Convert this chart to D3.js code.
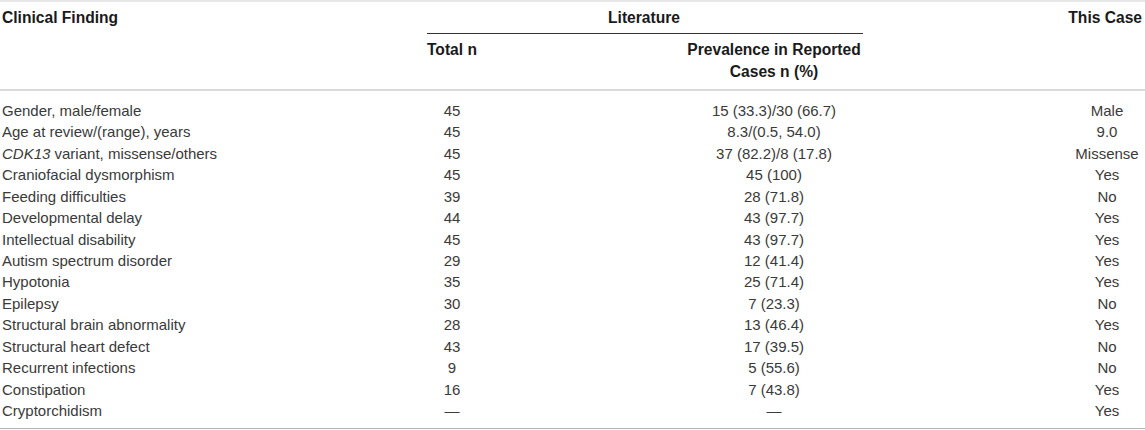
<!DOCTYPE html>
<html>
<head>
<meta charset="utf-8">
<script src="https://cdn.jsdelivr.net/npm/d3@7"></script>
<style>
  body { margin: 0; background: #fff; }
  svg text { font-family: "Liberation Sans", Arial, Helvetica, sans-serif; }
</style>
</head>
<body>
<svg id="chart"></svg>
<script>
// table content
const findings = [
  'Gender, male/female',
  'Age at review/(range), years',
  'CDK13 variant, missense/others',
  'Craniofacial dysmorphism',
  'Feeding difficulties',
  'Developmental delay',
  'Intellectual disability',
  'Autism spectrum disorder',
  'Hypotonia',
  'Epilepsy',
  'Structural brain abnormality',
  'Structural heart defect',
  'Recurrent infections',
  'Constipation',
  'Cryptorchidism'
];
const totalN = ['45', '45', '45', '45', '39', '44', '45', '29', '35', '30', '28', '43', '9', '16', '\u2014'];
const prevalence = [
  '15 (33.3)/30 (66.7)', '8.3/(0.5, 54.0)', '37 (82.2)/8 (17.8)', '45 (100)', '28 (71.8)',
  '43 (97.7)', '43 (97.7)', '12 (41.4)', '25 (71.4)', '7 (23.3)', '13 (46.4)', '17 (39.5)',
  '5 (55.6)', '7 (43.8)', '\u2014'
];
const thisCase = ['Male', '9.0', 'Missense', 'Yes', 'No', 'Yes', 'Yes', 'Yes', 'Yes', 'No', 'Yes', 'No', 'No', 'Yes', 'Yes'];

const width = 1145, height = 430;
const bodySize = 15, headSize = 15.6;

const svg = d3.select('#chart')
  .attr('width', width)
  .attr('height', height);

// row positions
const y = d3.scaleBand()
  .domain(d3.range(findings.length))
  .range([100, 421.4]);

// rules
svg.append('line')
  .attr('x1', 0).attr('x2', width).attr('y1', 1).attr('y2', 1)
  .attr('stroke', '#cfcfcf').attr('stroke-width', 1);
svg.append('line')
  .attr('x1', 427).attr('x2', 863).attr('y1', 33.5).attr('y2', 33.5)
  .attr('stroke', '#333').attr('stroke-width', 1.2);
svg.append('line')
  .attr('x1', 0).attr('x2', width).attr('y1', 90).attr('y2', 90)
  .attr('stroke', '#b5b5b5').attr('stroke-width', 1.2);
svg.append('line')
  .attr('x1', 0).attr('x2', width).attr('y1', 428.5).attr('y2', 428.5)
  .attr('stroke', '#b5b5b5').attr('stroke-width', 1.2);

// header text
const headers = [
  {text: 'Clinical Finding', x: 2, y: 18, anchor: 'start'},
  {text: 'Literature', x: 644, y: 18, anchor: 'middle'},
  {text: 'This Case', x: 1142, y: 18, anchor: 'end'},
  {text: 'Total n', x: 427, y: 50, anchor: 'start'},
  {text: 'Prevalence in Reported', x: 774, y: 50, anchor: 'middle'},
  {text: 'Cases n (%)', x: 774, y: 72, anchor: 'middle'}
];

svg.selectAll('text.head')
  .data(headers)
  .enter()
  .append('text')
  .attr('class', 'head')
  .attr('x', d => d.x)
  .attr('y', d => d.y)
  .attr('dy', '0.35em')
  .attr('text-anchor', d => d.anchor)
  .style('font-size', headSize + 'px')
  .style('font-weight', 'bold')
  .style('fill', '#1a1a1a')
  .text(d => d.text);

// body columns
const columns = [
  {values: findings, x: 2, anchor: 'start'},
  {values: totalN, x: 452, anchor: 'middle'},
  {values: prevalence, x: 774, anchor: 'middle'},
  {values: thisCase, x: 1107, anchor: 'middle'}
];

columns.forEach((col, ci) => {
  const cells = svg.append('g').selectAll('text')
    .data(col.values)
    .enter()
    .append('text')
    .attr('x', col.x)
    .attr('y', (d, i) => y(i) + y.bandwidth() / 2)
    .attr('dy', '0.35em')
    .attr('text-anchor', col.anchor)
    .style('font-size', bodySize + 'px')
    .style('fill', '#3a3a3a');

  cells.each(function(d) {
    const t = d3.select(this);
    if (ci === 0 && d.startsWith('CDK13')) {
      t.append('tspan').style('font-style', 'italic').text('CDK13');
      t.append('tspan').text(d.slice(5));
    } else {
      t.text(d);
    }
  });
});
</script>
</body>
</html>
